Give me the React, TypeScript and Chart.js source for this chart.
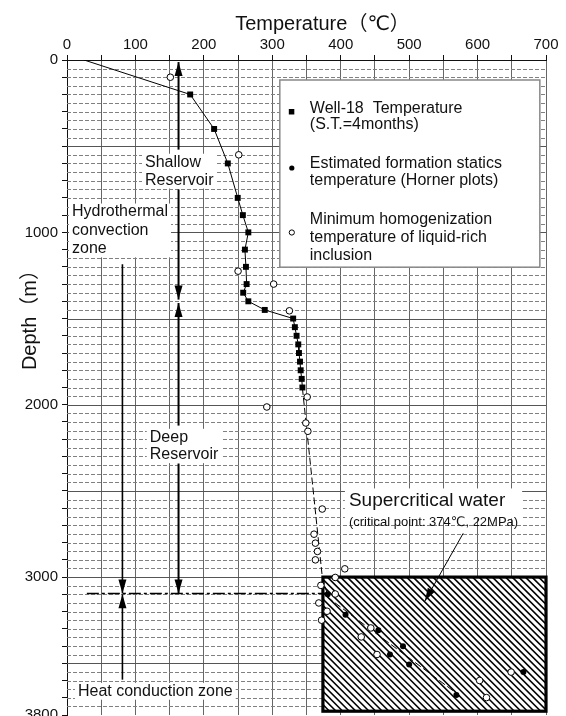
import React, { useEffect, useRef } from "react";
import { Chart, registerables } from "chart.js";

Chart.register(...registerables);

// ---- data (temperature in °C, depth in m) ----
const wellTemp = [25, 180, 215, 235, 249.5, 257, 265, 260, 261.5, 262.5, 257.5, 265, 289, 330.5, 333, 335.5, 338, 339, 340.5, 341.5, 343, 344];
const wellDepth = [0, 200, 400, 600, 800, 900, 1000, 1100, 1200, 1300, 1350, 1400, 1450, 1500, 1550, 1600, 1650, 1700, 1750, 1800, 1850, 1900];

const hornerTemp = [381, 407, 455, 491, 472, 500, 569, 667];
const hornerDepth = [3100, 3218, 3308, 3401, 3449, 3507, 3684, 3551];

const inclTemp = [151, 251, 250, 302, 325, 351, 292, 349, 352, 373, 361, 363, 366, 363, 406, 392, 371, 392, 368, 380, 372, 444, 430, 453, 603, 613, 649];
const inclDepth = [100, 550, 1225, 1300, 1455, 1955, 2013, 2106, 2154, 2605, 2751, 2803, 2851, 2900, 2952, 3002, 3048, 3098, 3150, 3198, 3250, 3295, 3347, 3449, 3600, 3699, 3551];

const trendTemp = [344, 373, 382, 574];
const trendDepth = [1903, 2996, 3121, 3688];

// supercritical region (T from critical point 374 °C)
const superTemp = [374, 700];
const superDepth = [3000, 3778];

// zone boundaries
const shallowRange = [12, 1390];
const deepRange = [1410, 3095];
const convectionRange = [1185, 3095];
const conductionRange = [3100, 3595];
const boundaryDepth = 3095;

const xTickLabels = [0, 100, 200, 300, 400, 500, 600, 700];
const yTickLabels = [0, 1000, 2000, 3000, 3800];

const FONT = "'Liberation Sans', Arial, 'DejaVu Sans', 'Noto Sans CJK SC', sans-serif";

const pts = (xs: number[], ys: number[]) => xs.map((x, i) => ({ x, y: ys[i] }));

function head(ctx: CanvasRenderingContext2D, x1: number, y1: number, x2: number, y2: number, len: number, w: number) {
  const a = Math.atan2(y2 - y1, x2 - x1);
  ctx.beginPath();
  ctx.moveTo(x2, y2);
  ctx.lineTo(x2 - len * Math.cos(a) + w * Math.sin(a), y2 - len * Math.sin(a) - w * Math.cos(a));
  ctx.lineTo(x2 - len * Math.cos(a) - w * Math.sin(a), y2 - len * Math.sin(a) + w * Math.cos(a));
  ctx.closePath();
  ctx.fill();
}

function arrow(ctx: CanvasRenderingContext2D, x1: number, y1: number, x2: number, y2: number, lw: number, len = 14, w = 4) {
  ctx.save();
  ctx.strokeStyle = "#000";
  ctx.fillStyle = "#000";
  ctx.lineWidth = lw;
  ctx.setLineDash([]);
  ctx.beginPath();
  ctx.moveTo(x1, y1);
  ctx.lineTo(x2, y2);
  ctx.stroke();
  head(ctx, x1, y1, x2, y2, len, w);
  ctx.restore();
}

function textBlock(ctx: CanvasRenderingContext2D, lines: string[], x: number, y: number, size: number, lh: number, bg = true) {
  ctx.save();
  ctx.font = `${size}px ${FONT}`;
  ctx.textBaseline = "alphabetic";
  ctx.textAlign = "left";
  let w = 0;
  lines.forEach((l) => (w = Math.max(w, ctx.measureText(l).width)));
  if (bg) {
    ctx.fillStyle = "#fff";
    ctx.fillRect(x - 3, y - size * 0.8, w + 6, lh * (lines.length - 1) + size * 1.05);
  }
  ctx.fillStyle = "#111";
  lines.forEach((l, i) => ctx.fillText(l, x, y + i * lh));
  ctx.restore();
}

const decor = {
  id: "decor",
  beforeDatasetsDraw(chart: any) {
    const { ctx, chartArea: ca, scales } = chart;
    const xs = scales.x;
    const ys = scales.y;
    const X = (t: number) => xs.getPixelForValue(t);
    const Y = (d: number) => ys.getPixelForValue(d);
    ctx.save();

    // horizontal grid: dashed every 50 m, solid every 500 m
    ctx.lineWidth = 1;
    for (let d = 50; d < 3800; d += 50) {
      const py = Math.round(Y(d)) + 0.5;
      ctx.beginPath();
      if (d % 500 === 0) {
        ctx.setLineDash([]);
        ctx.strokeStyle = "#555";
      } else {
        ctx.setLineDash([4, 2]);
        ctx.strokeStyle = "#808080";
      }
      ctx.moveTo(ca.left, py);
      ctx.lineTo(ca.right, py);
      ctx.stroke();
    }
    ctx.setLineDash([]);

    // supercritical hatched box
    const bx1 = X(superTemp[0]), bx2 = X(superTemp[1]);
    const by1 = Y(superDepth[0]), by2 = Y(superDepth[1]);
    ctx.fillStyle = "#fff";
    ctx.fillRect(bx1, by1, bx2 - bx1, by2 - by1);
    ctx.save();
    ctx.beginPath();
    ctx.rect(bx1, by1, bx2 - bx1, by2 - by1);
    ctx.clip();
    ctx.strokeStyle = "#000";
    ctx.lineWidth = 1.6;
    const h = by2 - by1;
    for (let c = -h; c < bx2 - bx1 + 10; c += 6.6) {
      ctx.beginPath();
      ctx.moveTo(bx1 + c, by1);
      ctx.lineTo(bx1 + c + h, by1 + h);
      ctx.stroke();
    }
    ctx.restore();
    ctx.strokeStyle = "#000";
    ctx.lineWidth = 3.2;
    ctx.strokeRect(bx1, by1, bx2 - bx1, by2 - by1);

    // zone labels
    textBlock(ctx, ["Shallow", "Reservoir"], X(114), Y(618), 16, 18);
    textBlock(ctx, ["Hydrothermal", "convection", "zone"], X(7.3), Y(907), 16, 18.5);
    textBlock(ctx, ["Deep", "Reservoir"], X(121), Y(2214), 16, 17.5);
    textBlock(ctx, ["Heat conduction zone"], X(16), Y(3688), 16, 18);
    // supercritical label
    ctx.save();
    ctx.font = `19px ${FONT}`;
    const w1 = ctx.measureText("Supercritical water").width;
    ctx.font = `13px ${FONT}`;
    const w2 = ctx.measureText("(critical point: 374℃, 22MPa)").width;
    const sx = X(412), sy = Y(2590);
    ctx.fillStyle = "#fff";
    ctx.fillRect(sx - 4, sy - 18, Math.max(w1, w2) + 8, 30);
    ctx.restore();
    textBlock(ctx, ["Supercritical water"], sx, sy, 19, 20, false);
    textBlock(ctx, ["(critical point: 374℃, 22MPa)"], sx, sy + 20, 13, 15, false);

    // zone arrows
    const xr = X(163);
    arrow(ctx, xr, Y(520), xr, Y(shallowRange[0]), 2);
    arrow(ctx, xr, Y(751), xr, Y(shallowRange[1]), 2);
    arrow(ctx, xr, Y(2121), xr, Y(deepRange[0]), 2);
    arrow(ctx, xr, Y(2341), xr, Y(deepRange[1]), 2);
    const xh = X(81);
    arrow(ctx, xh, Y(convectionRange[0]), xh, Y(convectionRange[1]), 1.6);
    arrow(ctx, xh, Y(conductionRange[1]), xh, Y(conductionRange[0]), 1.6);

    // boundary dash-dot line
    ctx.save();
    ctx.strokeStyle = "#000";
    ctx.lineWidth = 1.5;
    ctx.setLineDash([12, 3, 3, 3]);
    ctx.beginPath();
    ctx.moveTo(X(29), Y(boundaryDepth));
    ctx.lineTo(X(381), Y(boundaryDepth));
    ctx.stroke();
    ctx.restore();

    // legend
    const lx1 = X(311), lx2 = X(691), ly1 = Y(116), ly2 = Y(1202);
    ctx.fillStyle = "#fff";
    ctx.fillRect(lx1, ly1, lx2 - lx1, ly2 - ly1);
    ctx.strokeStyle = "#888";
    ctx.lineWidth = 1.5;
    ctx.strokeRect(lx1, ly1, lx2 - lx1, ly2 - ly1);
    ctx.fillStyle = "#000";
    ctx.fillRect(lx1 + 9, ly1 + 29, 5.5, 5.5);
    ctx.beginPath();
    ctx.arc(lx1 + 12, ly1 + 88, 2.6, 0, Math.PI * 2);
    ctx.fill();
    ctx.beginPath();
    ctx.arc(lx1 + 12, ly1 + 152.5, 2.6, 0, Math.PI * 2);
    ctx.lineWidth = 1;
    ctx.strokeStyle = "#000";
    ctx.stroke();
    textBlock(ctx, ["Well-18  Temperature", "(S.T.=4months)"], lx1 + 30, ly1 + 33, 16, 16.5, false);
    textBlock(ctx, ["Estimated formation statics", "temperature (Horner plots)"], lx1 + 30, ly1 + 88, 16, 17, false);
    textBlock(ctx, ["Minimum homogenization", "temperature of liquid-rich", "inclusion"], lx1 + 30, ly1 + 144, 16, 18, false);

    // axis titles
    ctx.fillStyle = "#111";
    ctx.font = `20px ${FONT}`;
    ctx.textAlign = "center";
    ctx.textBaseline = "alphabetic";
    ctx.fillText("Temperature（℃）", (ca.left + ca.right) / 2 + 16, 30);
    ctx.save();
    ctx.translate(36, Y(1480));
    ctx.rotate(-Math.PI / 2);
    ctx.fillText("Depth（m）", 0, 0);
    ctx.restore();

    ctx.restore();
  },
  afterDatasetsDraw(chart: any) {
    const { ctx, scales } = chart;
    const X = (t: number) => scales.x.getPixelForValue(t);
    const Y = (d: number) => scales.y.getPixelForValue(d);
    arrow(ctx, X(579), Y(2746), X(523), Y(3139), 1, 13, 4);
  },
};

export default function App() {
  const ref = useRef<HTMLCanvasElement>(null);
  useEffect(() => {
    document.body.style.margin = "0";
    const canvas = ref.current!;
    const chart = new Chart(canvas, {
      type: "scatter",
      data: {
        datasets: [
          {
            label: "Minimum homogenization temperature of liquid-rich inclusion",
            data: pts(inclTemp, inclDepth),
            pointStyle: "circle",
            pointRadius: 3.3,
            pointBackgroundColor: "#fff",
            pointBorderColor: "#000",
            pointBorderWidth: 1,
            showLine: false,
            order: 1,
          },
          {
            label: "Estimated formation statics temperature (Horner plots)",
            data: pts(hornerTemp, hornerDepth),
            pointStyle: "circle",
            pointRadius: 3,
            pointBackgroundColor: "#000",
            pointBorderColor: "#000",
            pointBorderWidth: 0,
            showLine: false,
            order: 2,
          },
          {
            label: "Well-18 Temperature (S.T.=4months)",
            data: pts(wellTemp, wellDepth),
            pointStyle: "rect",
            pointRadius: (c: any) => (c.dataIndex === 0 ? 0 : 4.2),
            pointBackgroundColor: "#000",
            pointBorderColor: "#000",
            pointBorderWidth: 0,
            borderColor: "#000",
            borderWidth: 1,
            showLine: true,
            order: 3,
          },
          {
            label: "trend",
            data: pts(trendTemp, trendDepth),
            pointRadius: 0,
            borderColor: "#000",
            borderWidth: 1,
            borderDash: [7, 3],
            showLine: true,
            order: 4,
          },
        ],
      },
      options: {
        responsive: false,
        animation: false,
        devicePixelRatio: 1,
        layout: { padding: { left: 0, right: 20, top: 0, bottom: 3 } },
        plugins: { legend: { display: false }, tooltip: { enabled: false } },
        scales: {
          x: {
            type: "linear",
            position: "top",
            min: 0,
            max: 700,
            afterFit: (s: any) => {
              s.height = 60;
              s.paddingLeft = 0;
              s.paddingRight = 0;
            },
            ticks: {
              stepSize: 50,
              autoSkip: false,
              maxRotation: 0,
              padding: 1,
              color: "#111",
              font: { family: FONT, size: 15 },
              callback: (v: any) => (xTickLabels.includes(Number(v)) ? String(v) : ""),
            },
            grid: { color: "#666", lineWidth: 1, tickLength: 5, tickColor: "#111", drawTicks: true },
            border: { color: "#111", width: 1 },
          },
          y: {
            type: "linear",
            reverse: true,
            min: 0,
            max: 3800,
            afterFit: (s: any) => {
              s.width = 67;
              s.paddingTop = 0;
              s.paddingBottom = 0;
            },
            ticks: {
              stepSize: 100,
              autoSkip: false,
              padding: 4,
              color: "#111",
              font: { family: FONT, size: 15 },
              callback: (v: any) => (yTickLabels.includes(Number(v)) ? String(v) : ""),
            },
            grid: { drawOnChartArea: false, tickLength: 5, tickColor: "#111" },
            border: { color: "#111", width: 1 },
          },
        },
      },
      plugins: [decor],
    } as any);
    return () => chart.destroy();
  }, []);
  return (
    <div style={{ width: 566, height: 716, overflow: "hidden" }}>
      <canvas ref={ref} width={566} height={720} style={{ display: "block", width: 566, height: 720 }} />
    </div>
  );
}
